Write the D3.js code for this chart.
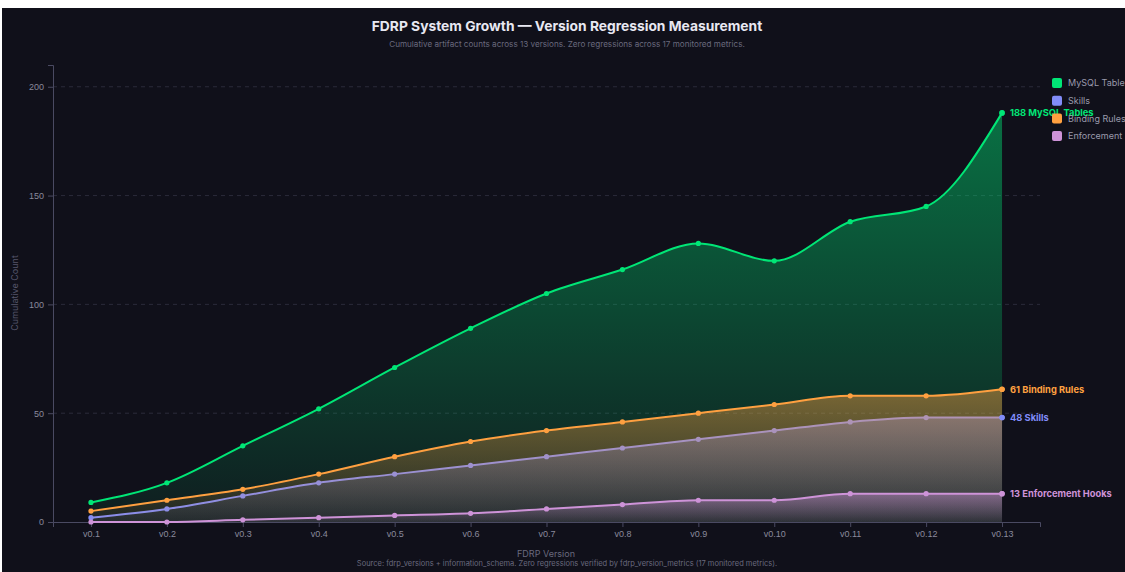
<!DOCTYPE html>
<html>
<head>
<meta charset="utf-8">
<script src="https://cdn.jsdelivr.net/npm/d3@7"></script>
<style>
  html, body { margin: 0; padding: 0; background: #ffffff; }
  svg { display: block; font-family: Inter, "Noto Sans", sans-serif; }
</style>
</head>
<body>
<svg id="chart" width="1125" height="572"></svg>
<script>
// Versions on the x axis
const versions = ["v0.1","v0.2","v0.3","v0.4","v0.5","v0.6","v0.7","v0.8","v0.9","v0.10","v0.11","v0.12","v0.13"];

// Cumulative counts per version
const mysqlTables      = [9, 18, 35, 52, 71, 89, 105, 116, 128, 120, 138, 145, 188];
const skills           = [2, 6, 12, 18, 22, 26, 30, 34, 38, 42, 46, 48, 48];
const bindingRules     = [5, 10, 15, 22, 30, 37, 42, 46, 50, 54, 58, 58, 61];
const enforcementHooks = [0, 0, 1, 2, 3, 4, 6, 8, 10, 10, 13, 13, 13];

const yTicks = [0, 50, 100, 150, 200];

const series = [
  { key: "mysql",   name: "MySQL Tables",      values: mysqlTables,      color: "#00e676" },
  { key: "skills",  name: "Skills",            values: skills,           color: "#818cf8" },
  { key: "binding", name: "Binding Rules",     values: bindingRules,     color: "#ffa040" },
  { key: "hooks",   name: "Enforcement Hooks", values: enforcementHooks, color: "#ce93d8" }
];

const W = 1125, H = 572;
const margin = { top: 65, right: 85, bottom: 50, left: 53 };
const svg = d3.select("#chart");

// panel background
svg.append("rect").attr("x", 2).attr("y", 8).attr("width", W - 2).attr("height", H - 8).attr("fill", "#10101a");

const x = d3.scalePoint().domain(versions).range([margin.left, W - margin.right]).padding(0.5);
const y = d3.scaleLinear().domain([0, 210]).range([H - margin.bottom, margin.top]);

const defs = svg.append("defs");
series.forEach(s => {
  const g = defs.append("linearGradient").attr("id", "grad-" + s.key)
    .attr("x1", 0).attr("y1", 0).attr("x2", 0).attr("y2", 1);
  g.append("stop").attr("offset", "0%").attr("stop-color", s.color).attr("stop-opacity", 0.45);
  g.append("stop").attr("offset", "100%").attr("stop-color", s.color).attr("stop-opacity", 0.06);
});

// grid
svg.append("g").selectAll("line").data(yTicks.filter(d => d > 0)).join("line")
  .attr("x1", margin.left).attr("x2", W - margin.right)
  .attr("y1", d => y(d)).attr("y2", d => y(d))
  .attr("stroke", "#2a2a3a").attr("stroke-dasharray", "4,4").attr("stroke-width", 1);

// axes
const axisColor = "#4a4a62";
const yAxis = svg.append("g").attr("transform", `translate(${margin.left},0)`)
  .call(d3.axisLeft(y).tickValues(yTicks).tickSize(5).tickPadding(4));
const xAxis = svg.append("g").attr("transform", `translate(0,${y(0)})`)
  .call(d3.axisBottom(x).tickSize(5).tickPadding(4));
[xAxis, yAxis].forEach(a => {
  a.selectAll("path, line").attr("stroke", axisColor);
  a.selectAll("text").attr("fill", "#8a8a9c").attr("font-size", 9);
});

const area = d3.area().x((d, i) => x(versions[i])).y0(y(0)).y1(d => y(d)).curve(d3.curveMonotoneX);
const line = d3.line().x((d, i) => x(versions[i])).y(d => y(d)).curve(d3.curveMonotoneX);

series.forEach(s => {
  const g = svg.append("g");
  g.append("path").datum(s.values).attr("d", area).attr("fill", `url(#grad-${s.key})`);
  g.append("path").datum(s.values).attr("d", line).attr("fill", "none")
    .attr("stroke", s.color).attr("stroke-width", 2);
  g.selectAll("circle").data(s.values).join("circle")
    .attr("cx", (d, i) => x(versions[i])).attr("cy", d => y(d)).attr("r", 2.6)
    .attr("fill", s.color);
});

// end labels
const last = versions.length - 1;
series.forEach(s => {
  const v = s.values[last];
  svg.append("circle").attr("cx", x(versions[last])).attr("cy", y(v)).attr("r", 2.8).attr("fill", s.color);
  svg.append("text").attr("x", x(versions[last]) + 8).attr("y", y(v)).attr("dy", "0.35em")
    .attr("fill", s.color).attr("font-size", 9.3).attr("font-weight", 700)
    .text(`${v} ${s.name}`);
});

// legend
const legend = svg.append("g").attr("transform", "translate(1052,78)");
series.forEach((s, i) => {
  const row = legend.append("g").attr("transform", `translate(0,${i * 17.7})`);
  row.append("rect").attr("width", 10).attr("height", 10).attr("rx", 2).attr("fill", s.color);
  row.append("text").attr("x", 16).attr("y", 5).attr("dy", "0.35em")
    .attr("fill", "#9a9aac").attr("font-size", 9).text(s.name);
});

// titles
svg.append("text").attr("x", 567).attr("y", 31).attr("text-anchor", "middle")
  .attr("fill", "#e8e8f2").attr("font-size", 13.8).attr("font-weight", 700)
  .text("FDRP System Growth — Version Regression Measurement");
svg.append("text").attr("x", 567).attr("y", 47).attr("text-anchor", "middle")
  .attr("fill", "#6a6a7e").attr("font-size", 8.15)
  .text("Cumulative artifact counts across 13 versions. Zero regressions across 17 monitored metrics.");
svg.append("text").attr("transform", "translate(18,293) rotate(-90)").attr("text-anchor", "middle")
  .attr("fill", "#55556a").attr("font-size", 9).text("Cumulative Count");
svg.append("text").attr("x", 546).attr("y", 557).attr("text-anchor", "middle")
  .attr("fill", "#6a6a7e").attr("font-size", 9).text("FDRP Version");
svg.append("text").attr("x", 567).attr("y", 566).attr("text-anchor", "middle")
  .attr("fill", "#6a6a7e").attr("font-size", 7.5)
  .text("Source: fdrp_versions + information_schema. Zero regressions verified by fdrp_version_metrics (17 monitored metrics).");
</script>
</body>
</html>
